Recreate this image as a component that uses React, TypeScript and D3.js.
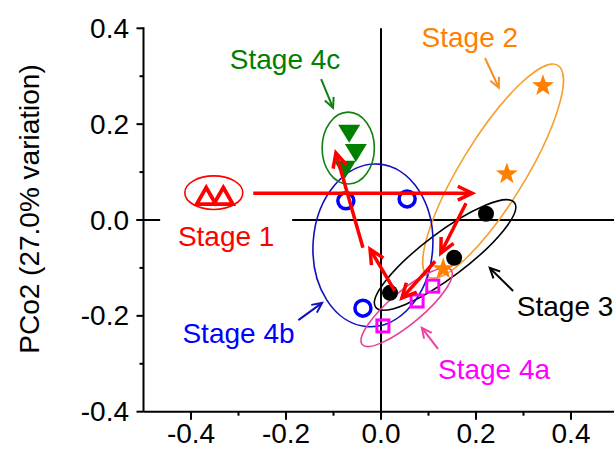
import React from 'react';
import * as d3 from 'd3';

// sample scores on PCo1 / PCo2
const stage1 = [[-0.368, 0.05], [-0.332, 0.05]];
const stage2 = [[0.341, 0.28], [0.265, 0.096], [0.131, -0.102]];
const stage3 = [[0.221, 0.013], [0.154, -0.079], [0.019, -0.152]];
const stage4a = [[0.109, -0.138], [0.076, -0.169], [0.004, -0.221]];
const stage4b = [[-0.074, 0.04], [0.055, 0.044], [-0.038, -0.184]];
const stage4c = [[-0.067, 0.182], [-0.053, 0.142], [-0.076, 0.107]];

// group ellipses: centre x, centre y, semi-axis a, semi-axis b, angle (deg, ccw)
const ellipse1 = [-0.352, 0.057, 0.061, 0.035, 0];
const ellipse2 = [0.236, 0.102, 0.261, 0.067, 58.5];
const ellipse3 = [0.135, -0.073, 0.183, 0.046, 37];
const ellipse4a = [0.054, -0.182, 0.122, 0.034, 40];
const ellipse4b = [-0.017, -0.053, 0.126, 0.17, -4];
const ellipse4c = [-0.069, 0.15, 0.055, 0.075, 0];

// succession path between stages
const succession = [
  [[-0.269, 0.056], [0.192, 0.056]],
  [[0.179, 0.035], [0.126, -0.069]],
  [[0.114, -0.086], [0.044, -0.163]],
  [[0.029, -0.148], [-0.023, -0.061]],
  [[-0.038, -0.058], [-0.095, 0.14]],
];

const stageNames = ['Stage 1', 'Stage 2', 'Stage 3', 'Stage 4a', 'Stage 4b', 'Stage 4c'];
const labelAt = [[-0.326, -0.054], [0.187, 0.361], [0.286, -0.2], [0.238, -0.332], [-0.3, -0.257], [-0.202, 0.315]];
const pointers = [
  null,
  [[0.219, 0.338], [0.248, 0.276]],
  [[0.278, -0.148], [0.229, -0.1]],
  [[0.12, -0.269], [0.086, -0.225]],
  [[-0.174, -0.209], [-0.124, -0.173]],
  [[-0.126, 0.294], [-0.101, 0.234]],
];

const majorX = [-0.4, -0.2, 0, 0.2, 0.4];
const minorX = [-0.3, -0.1, 0.1, 0.3];
const majorY = [-0.4, -0.2, 0, 0.2, 0.4];
const minorY = [-0.3, -0.1, 0.1, 0.3];
const yTitle = 'PCo2 (27.0% variation)';

const W = 614;
const H = 449;
const FONT = 'Arial, "Liberation Sans", sans-serif';
const FS = 28;

const x = d3.scaleLinear().domain([-0.5, 0.5]).range([143.5, 618.5]);
const y = d3.scaleLinear().domain([-0.4, 0.4]).range([411.7, 28.3]);
const fmt = (v: number) => d3.format('.1f')(v).replace('\u2212', '-');

const labelColors = ['#ff0000', '#ff8000', '#000000', '#ff00ff', '#0000ff', '#008000'];
const pointerColors = ['#ff0000', '#f39020', '#000000', '#f040a0', '#1010c0', '#108010'];

function Ellipse({ e, color }: { e: number[]; color: string }) {
  const [cx, cy, a, b, ang] = e;
  return (
    <ellipse
      cx={0}
      cy={0}
      rx={x(a) - x(0)}
      ry={y(0) - y(b)}
      transform={`translate(${x(cx)},${y(cy)}) rotate(${-ang})`}
      fill="none"
      stroke={color}
      strokeWidth={1.6}
    />
  );
}

function Arrow({ seg, color, width, head }: { seg: number[][]; color: string; width: number; head: number }) {
  const x1 = x(seg[0][0]), y1 = y(seg[0][1]);
  const x2 = x(seg[1][0]), y2 = y(seg[1][1]);
  const ang = Math.atan2(y2 - y1, x2 - x1);
  const spread = 0.45;
  const h1 = [x2 - head * Math.cos(ang - spread), y2 - head * Math.sin(ang - spread)];
  const h2 = [x2 - head * Math.cos(ang + spread), y2 - head * Math.sin(ang + spread)];
  return (
    <g stroke={color} strokeWidth={width} fill="none" strokeLinecap="butt" strokeLinejoin="miter">
      <line x1={x1} y1={y1} x2={x2} y2={y2} />
      <path d={`M${h1[0]},${h1[1]}L${x2},${y2}L${h2[0]},${h2[1]}`} />
    </g>
  );
}

const star = (() => {
  const pts: string[] = [];
  for (let i = 0; i < 10; i++) {
    const r = i % 2 === 0 ? 11.5 : 4.6;
    const a = -Math.PI / 2 + (i * Math.PI) / 5;
    pts.push(`${r * Math.cos(a)},${r * Math.sin(a)}`);
  }
  return 'M' + pts.join('L') + 'Z';
})();

export default function App() {
  return (
    <svg width={W} height={H} style={{ position: 'absolute', left: 0, top: 0, background: '#fff' }} fontFamily={FONT}>
      {/* zero lines */}
      <line x1={x(0)} x2={x(0)} y1={y(0.4)} y2={y(-0.4)} stroke="#000" strokeWidth={2} />
      <line x1={x(-0.5) - 7} x2={W} y1={y(0)} y2={y(0)} stroke="#000" strokeWidth={2} />

      {/* axes */}
      <line x1={x(-0.5)} x2={x(-0.5)} y1={y(0.4) - 1} y2={y(-0.4)} stroke="#000" strokeWidth={2} />
      <line x1={x(-0.5)} x2={W} y1={y(-0.4)} y2={y(-0.4)} stroke="#000" strokeWidth={2} />
      {majorX.map(v => (
        <g key={'mx' + v}>
          <line x1={x(v)} x2={x(v)} y1={y(-0.4)} y2={y(-0.4) + 8} stroke="#000" strokeWidth={2} />
          <text x={x(v)} y={443} textAnchor="middle" fontSize={FS}>{fmt(v)}</text>
        </g>
      ))}
      {minorX.map(v => (
        <line key={'nx' + v} x1={x(v)} x2={x(v)} y1={y(-0.4)} y2={y(-0.4) + 4} stroke="#000" strokeWidth={2} />
      ))}
      {majorY.map(v => (
        <g key={'my' + v}>
          <line x1={x(-0.5) - 7} x2={x(-0.5)} y1={y(v)} y2={y(v)} stroke="#000" strokeWidth={2} />
          <text x={129} y={y(v) + 9.5} textAnchor="end" fontSize={FS}>{fmt(v)}</text>
        </g>
      ))}
      {minorY.map(v => (
        <line key={'ny' + v} x1={x(-0.5) - 4} x2={x(-0.5)} y1={y(v)} y2={y(v)} stroke="#000" strokeWidth={2} />
      ))}
      <text transform={`translate(39,209) rotate(-90)`} textAnchor="middle" fontSize={FS}>{yTitle}</text>

      {/* white box behind the Stage 1 label */}
      <rect x={x(labelAt[0][0]) - 66} y={y(labelAt[0][1]) - 28} width={132} height={36} fill="#fff" />

      {/* group ellipses */}
      <Ellipse e={ellipse1} color="#ff0000" />
      <Ellipse e={ellipse2} color="#f5a030" />
      <Ellipse e={ellipse3} color="#000000" />
      <Ellipse e={ellipse4b} color="#1010c0" />
      <Ellipse e={ellipse4c} color="#108010" />
      <Ellipse e={ellipse4a} color="#e8409a" />

      {/* samples */}
      {stage2.map((d, i) => (
        <path key={'s2' + i} d={star} transform={`translate(${x(d[0])},${y(d[1])})`} fill="#ff8000" />
      ))}
      {stage4b.map((d, i) => (
        <circle key={'s4b' + i} cx={x(d[0])} cy={y(d[1])} r={8} fill="none" stroke="#0000ff" strokeWidth={3.5} />
      ))}
      {stage3.map((d, i) => (
        <circle key={'s3' + i} cx={x(d[0])} cy={y(d[1])} r={8} fill="#000" />
      ))}
      {stage4a.map((d, i) => (
        <rect key={'s4a' + i} x={x(d[0]) - 6} y={y(d[1]) - 6} width={12} height={12} fill="none" stroke="#ff00ff" strokeWidth={3} />
      ))}
      {stage4c.map((d, i) => (
        <path key={'s4c' + i} d="M-11,-8L11,-8L0,10Z" transform={`translate(${x(d[0])},${y(d[1])})`} fill="#008000" />
      ))}
      {stage1.map((d, i) => (
        <path key={'s1' + i} d="M0,-8.5L9.5,8L-9.5,8Z" transform={`translate(${x(d[0])},${y(d[1])})`} fill="none" stroke="#ff0000" strokeWidth={3.8} strokeLinejoin="miter" />
      ))}

      {/* succession arrows */}
      {succession.map((s, i) => (
        <Arrow key={'a' + i} seg={s} color="#ff0000" width={3.5} head={16} />
      ))}

      {/* label pointers and labels */}
      {pointers.map((p, i) => p && (
        <Arrow key={'p' + i} seg={p} color={pointerColors[i]} width={2} head={11} />
      ))}
      {stageNames.map((n, i) => (
        <text
          key={n}
          x={x(labelAt[i][0])}
          y={y(labelAt[i][1])}
          textAnchor={n === 'Stage 3' ? 'start' : 'middle'}
          fontSize={FS}
          fill={labelColors[i]}
        >
          {n}
        </text>
      ))}
    </svg>
  );
}
